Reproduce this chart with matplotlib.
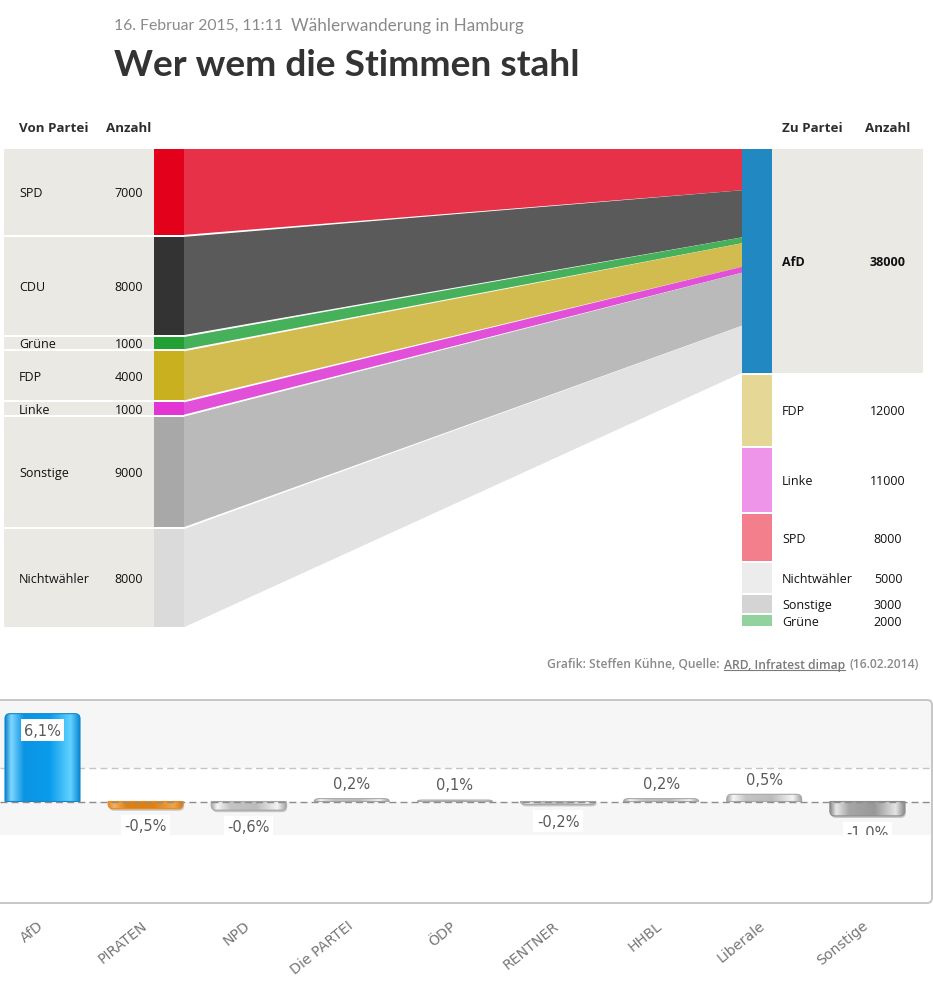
import matplotlib
matplotlib.use('Agg')
import numpy as np
import matplotlib.pyplot as plt
from matplotlib.colors import LinearSegmentedColormap
from matplotlib.patches import FancyBboxPatch, PathPatch, Polygon, Rectangle
from matplotlib.path import Path
from matplotlib.transforms import Affine2D, Bbox, ScaledTranslation, TransformedBbox

# Sankey data
von_parteien = ['SPD', 'CDU', 'Grüne', 'FDP', 'Linke', 'Sonstige', 'Nichtwähler']
von_anzahl = [7000, 8000, 1000, 4000, 1000, 9000, 8000]
von_farben = ['#e2001a', '#333333', '#23a033', '#c9b01f', '#e335d4', '#a8a8a8', '#dadada']
fluss_farben = ['#e63148', '#5a5a5a', '#46b15a', '#d2bc50', '#e24fd8', '#bababa', '#e2e2e2']

zu_parteien = ['AfD', 'FDP', 'Linke', 'SPD', 'Nichtwähler', 'Sonstige', 'Grüne']
zu_anzahl = [38000, 12000, 11000, 8000, 5000, 3000, 2000]
zu_farben = ['#2288c2', '#e5d897', '#ee95ea', '#f37f8d', '#ececec', '#d4d4d4', '#91d29e']

# Bar chart data
balken_parteien = ['AfD', 'PIRATEN', 'NPD', 'Die PARTEI', 'ÖDP', 'RENTNER', 'HHBL', 'Liberale', 'Sonstige']
balken_werte = [6.1, -0.5, -0.6, 0.2, 0.1, -0.2, 0.2, 0.5, -1.0]
balken_texte = ['6,1%', '-0,5%', '-0,6%', '0,2%', '0,1%', '-0,2%', '0,2%', '0,5%', '-1,0%']

BLAU = ['#0d85cc', '#7fd6ff', '#0a94e4', '#0a9cec', '#62d2ff', '#0c8ad2']
ORANGE = ['#e88a20', '#f5b060', '#e07f12', '#e07f12', '#f0a548', '#d97a10']
SILBER = ['#a8a8a8', '#f6f6f6', '#c4c4c4', '#bcbcbc', '#f4f4f4', '#a0a0a0']
DUNKEL = ['#8c8c8c', '#e8e8e8', '#a6a6a6', '#989898', '#e4e4e4', '#8a8a8a']
balken_stile = [BLAU, ORANGE, SILBER, SILBER, SILBER, SILBER, SILBER, SILBER, DUNKEL]

plt.rcParams['font.family'] = ['Open Sans', 'DejaVu Sans']

fig = plt.figure(figsize=(9.33, 9.87), dpi=100, facecolor='white')
ax = fig.add_axes([0, 0, 1, 1])
ax.set_xlim(0, 933)
ax.set_ylim(986, -1)
ax.axis('off')
ax.set_zorder(5)

# Header
ax.text(114, 25, '16. Februar 2015, 11:11', fontsize=11.3, color='#8a8a8a', va='center', family='Lato')
ax.text(291, 25, 'Wählerwanderung in Hamburg', fontsize=12.3, color='#8a8a8a', va='center', family='Lato')
ax.text(114, 65, 'Wer wem die Stimmen stahl', fontsize=26.7, fontweight='bold', color='#333333', va='center', family='Lato')

for x, s, ha in [(19, 'Von Partei', 'left'), (129, 'Anzahl', 'center'),
                 (782, 'Zu Partei', 'left'), (888, 'Anzahl', 'center')]:
    ax.text(x, 128, s, fontsize=9.6, fontweight='bold', color='#2e2e2e', ha=ha, va='center')

# Sankey
TOP = 149
GAP = 2
scale_von = 12.27 / 1000
scale_fluss = 5.89 / 1000

y = TOP
y_fluss = TOP
for name, n, farbe, fluss in zip(von_parteien, von_anzahl, von_farben, fluss_farben):
    h = n * scale_von
    hf = n * scale_fluss
    ax.add_patch(Rectangle((4, y), 150, h, fc='#ebe9e4', ec='none'))
    ax.add_patch(Rectangle((154, y), 30, h, fc=farbe, ec='none'))
    ax.add_patch(Polygon([(184, y), (742, y_fluss), (742, y_fluss + hf), (184, y + h)], fc=fluss, ec='none'))
    ax.text(19, y + h / 2 + 0.8, name, fontsize=9, color='#111111', va='center')
    ax.text(129, y + h / 2 + 0.8, str(n), fontsize=9, color='#111111', ha='center', va='center')
    y += h + GAP
    y_fluss += hf

y = TOP
for i, (name, n, farbe) in enumerate(zip(zu_parteien, zu_anzahl, zu_farben)):
    h = n * scale_fluss
    if i == 0:
        ax.add_patch(Rectangle((772, y), 151, h, fc='#ebe9e4', ec='none'))
    ax.add_patch(Rectangle((742, y), 30, h, fc=farbe, ec='none'))
    gewicht = 'bold' if i == 0 else 'normal'
    ax.text(782, y + h / 2 + 0.8, name, fontsize=9, color='#111111', va='center', fontweight=gewicht)
    ax.text(888, y + h / 2 + 0.8, str(n), fontsize=9, color='#111111', ha='center', va='center', fontweight=gewicht)
    y += h + GAP

# Source line
ax.text(547, 664, 'Grafik: Steffen Kühne, Quelle:', fontsize=8.7, color='#8a8a8a', va='center', fontweight='semibold')
ax.text(724, 664, 'ARD, Infratest dimap', fontsize=8.7, color='#7a7a7a', va='center', fontweight='semibold')
ax.plot([724, 845], [670, 670], color='#7a7a7a', lw=0.8)
ax.text(849, 664, '(16.02.2014)', fontsize=8.7, color='#8a8a8a', va='center', fontweight='semibold')

# Bar chart, axes box is the panel in pixels
PX_X = 103.1
PX_Y = 14.4
panel_l, panel_r, panel_t, panel_b = 0, 932, 700, 903
bx = fig.add_axes([panel_l / 933, 1 - panel_b / 987, (panel_r - panel_l) / 933, (panel_b - panel_t) / 987])
bx.set_facecolor('white')

xlim = ((panel_l - 42.5) / PX_X, (panel_r - 42.5) / PX_X)
ylim = ((802.5 - panel_b) / PX_Y, (802.5 - panel_t) / PX_Y)

BAND = 2.35
bx.axhspan(BAND, ylim[1], color='#f6f6f6', lw=0, zorder=0)
bx.axhspan(-BAND, 0, color='#f6f6f6', lw=0, zorder=0)
bx.axhline(BAND, color='#c4c4c4', lw=1, ls=(0, (5, 3)), zorder=1)

BREITE = 75 / PX_X


def balken_pfad(i, v):
    # rounded on the end away from the zero line
    links, rechts = i - BREITE / 2, i + BREITE / 2
    rx = 5 / PX_X
    ry = min(5 / PX_Y, abs(v)) * np.sign(v)
    verts = [(links, 0), (links, v - ry), (links, v), (links + rx, v),
             (rechts - rx, v), (rechts, v), (rechts, v - ry), (rechts, 0), (links, 0)]
    codes = [Path.MOVETO, Path.LINETO, Path.CURVE3, Path.CURVE3,
             Path.LINETO, Path.CURVE3, Path.CURVE3, Path.LINETO, Path.CLOSEPOLY]
    return Path(verts, codes)


bx.set_xlim(*xlim)
bx.set_ylim(*ylim)
kante_clip = TransformedBbox(Bbox([[-1, -BAND], [9, 8]]), bx.transData)
for i, (v, s, stil) in enumerate(zip(balken_werte, balken_texte, balken_stile)):
    pfad = balken_pfad(i, v)
    # soft shadow for the bars below the zero line
    if v < 0:
        schatten = PathPatch(pfad, fc='#888888', ec='none', alpha=0.45, zorder=2,
                             transform=bx.transData + Affine2D().translate(1, -2))
        bx.add_patch(schatten)
    cmap = LinearSegmentedColormap.from_list('glanz', list(zip([0, 0.08, 0.25, 0.6, 0.88, 1], stil)))
    grad = np.linspace(0, 1, 128).reshape(1, -1)
    unten, oben = min(0, v), max(0, v)
    bild = bx.imshow(grad, cmap=cmap, extent=[i - BREITE / 2, i + BREITE / 2, unten, oben],
                     aspect='auto', zorder=3)
    rand = PathPatch(pfad, fc='none', ec=stil[0], lw=0.8, zorder=4)
    bx.add_patch(rand)
    bild.set_clip_path(rand)

    offset = -12 if v > 6 else (11 if v > 0 else -12)
    t = bx.annotate(s, (i, v), xytext=(0, offset), textcoords='offset points', ha='center', va='center',
                    fontsize=10.5, color='#5a5a5a', family='DejaVu Sans', zorder=6,
                    bbox=dict(fc='white', ec='none', pad=2.4) if v < 0 or v > 6 else None)
    t.set_clip_box(kante_clip)
    t.set_clip_on(True)

bx.set_xlim(*xlim)
bx.set_ylim(*ylim)
bx.axhline(0, color='#8c8c8c', lw=1, ls=(0, (5, 3)), zorder=5)

for seite in bx.spines:
    bx.spines[seite].set_visible(False)

# panel frame with the rounded right corners
ax.add_patch(FancyBboxPatch((-10, panel_t), panel_r + 10, panel_b - panel_t,
                            boxstyle='round,pad=0,rounding_size=5', fc='none', ec='#c6c6c6', lw=1.4))

bx.set_yticks([])
bx.set_xticks(range(len(balken_parteien)))
bx.set_xticklabels(balken_parteien, rotation=39, ha='right', va='top', rotation_mode='anchor',
                   fontsize=10.2, color='#777777', family='DejaVu Sans')
bx.tick_params(axis='x', length=0, pad=10)
verschub = ScaledTranslation(-5 / 100, -2 / 100, fig.dpi_scale_trans)
for lab in bx.get_xticklabels():
    lab.set_transform(lab.get_transform() + verschub)

fig.savefig('out.png', dpi=100)
